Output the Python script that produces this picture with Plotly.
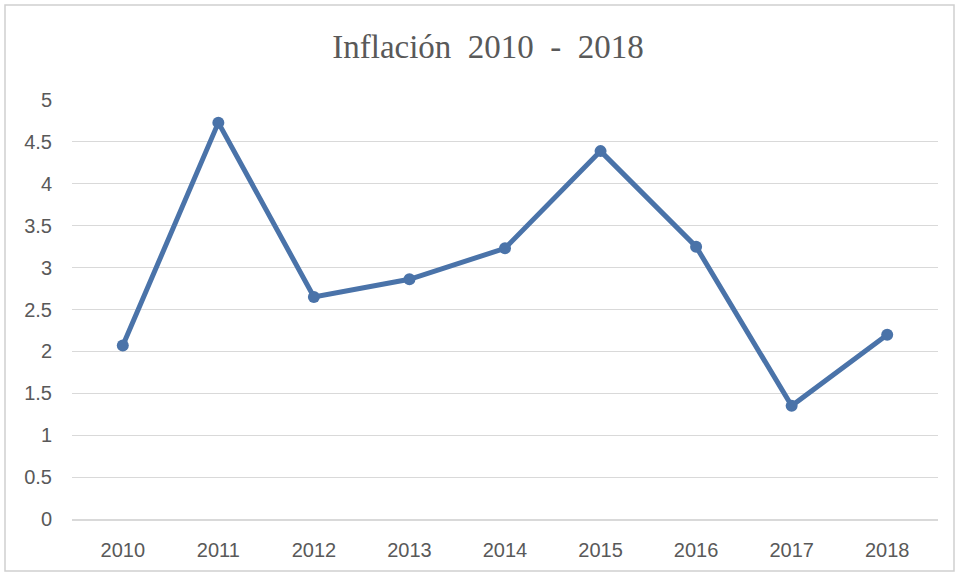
import plotly.graph_objects as go

years = ["2010", "2011", "2012", "2013", "2014", "2015", "2016", "2017", "2018"]
inflation = [2.07, 4.73, 2.65, 2.86, 3.23, 4.39, 3.25, 1.35, 2.20]
y_ticks = [0, 0.5, 1, 1.5, 2, 2.5, 3, 3.5, 4, 4.5, 5]
y_labels = ["0", "0.5", "1", "1.5", "2", "2.5", "3", "3.5", "4", "4.5", "5"]

W, H = 957, 576
ml, mr, mt, mb = 72, 19, 100, 57

fig = go.Figure()
fig.add_trace(go.Scatter(
    x=years, y=inflation, mode="lines+markers",
    line=dict(color="#4a73a9", width=5),
    marker=dict(color="#4a73a9", size=12),
    showlegend=False,
))

pw = W - ml - mr
ph = H - mt - mb
fig.add_shape(type="rect", xref="paper", yref="paper",
              x0=(5 - ml) / pw, x1=(W - 3 - ml) / pw,
              y0=-(H - 5 - (H - mb)) / ph,
              y1=1 + (mt - 5) / ph,
              line=dict(color="#d0d0d0", width=1.5), layer="below")

tick_font = dict(family="Liberation Sans, Arial, sans-serif", size=20, color="#595959")

fig.update_layout(
    width=W, height=H,
    margin=dict(l=ml, r=mr, t=mt, b=mb),
    paper_bgcolor="white", plot_bgcolor="white",
    title=dict(text="Inflación  2010  -  2018", x=0.51, xanchor="center",
               y=1 - 46 / H, yanchor="middle",
               font=dict(family="Liberation Serif, Times New Roman, serif", size=33, color="#595959")),
    xaxis=dict(type="category", showgrid=False, showline=True, linecolor="#d9d9d9", linewidth=1.5,
               ticks="", tickfont=tick_font, ticklabelstandoff=12),
    yaxis=dict(range=[0, 5], tickvals=y_ticks, ticktext=y_labels, showgrid=True,
               gridcolor="#d9d9d9", gridwidth=1, zeroline=False, showline=False, ticks="",
               tickfont=tick_font, ticklabelstandoff=19),
)

fig.write_html("out.html")
